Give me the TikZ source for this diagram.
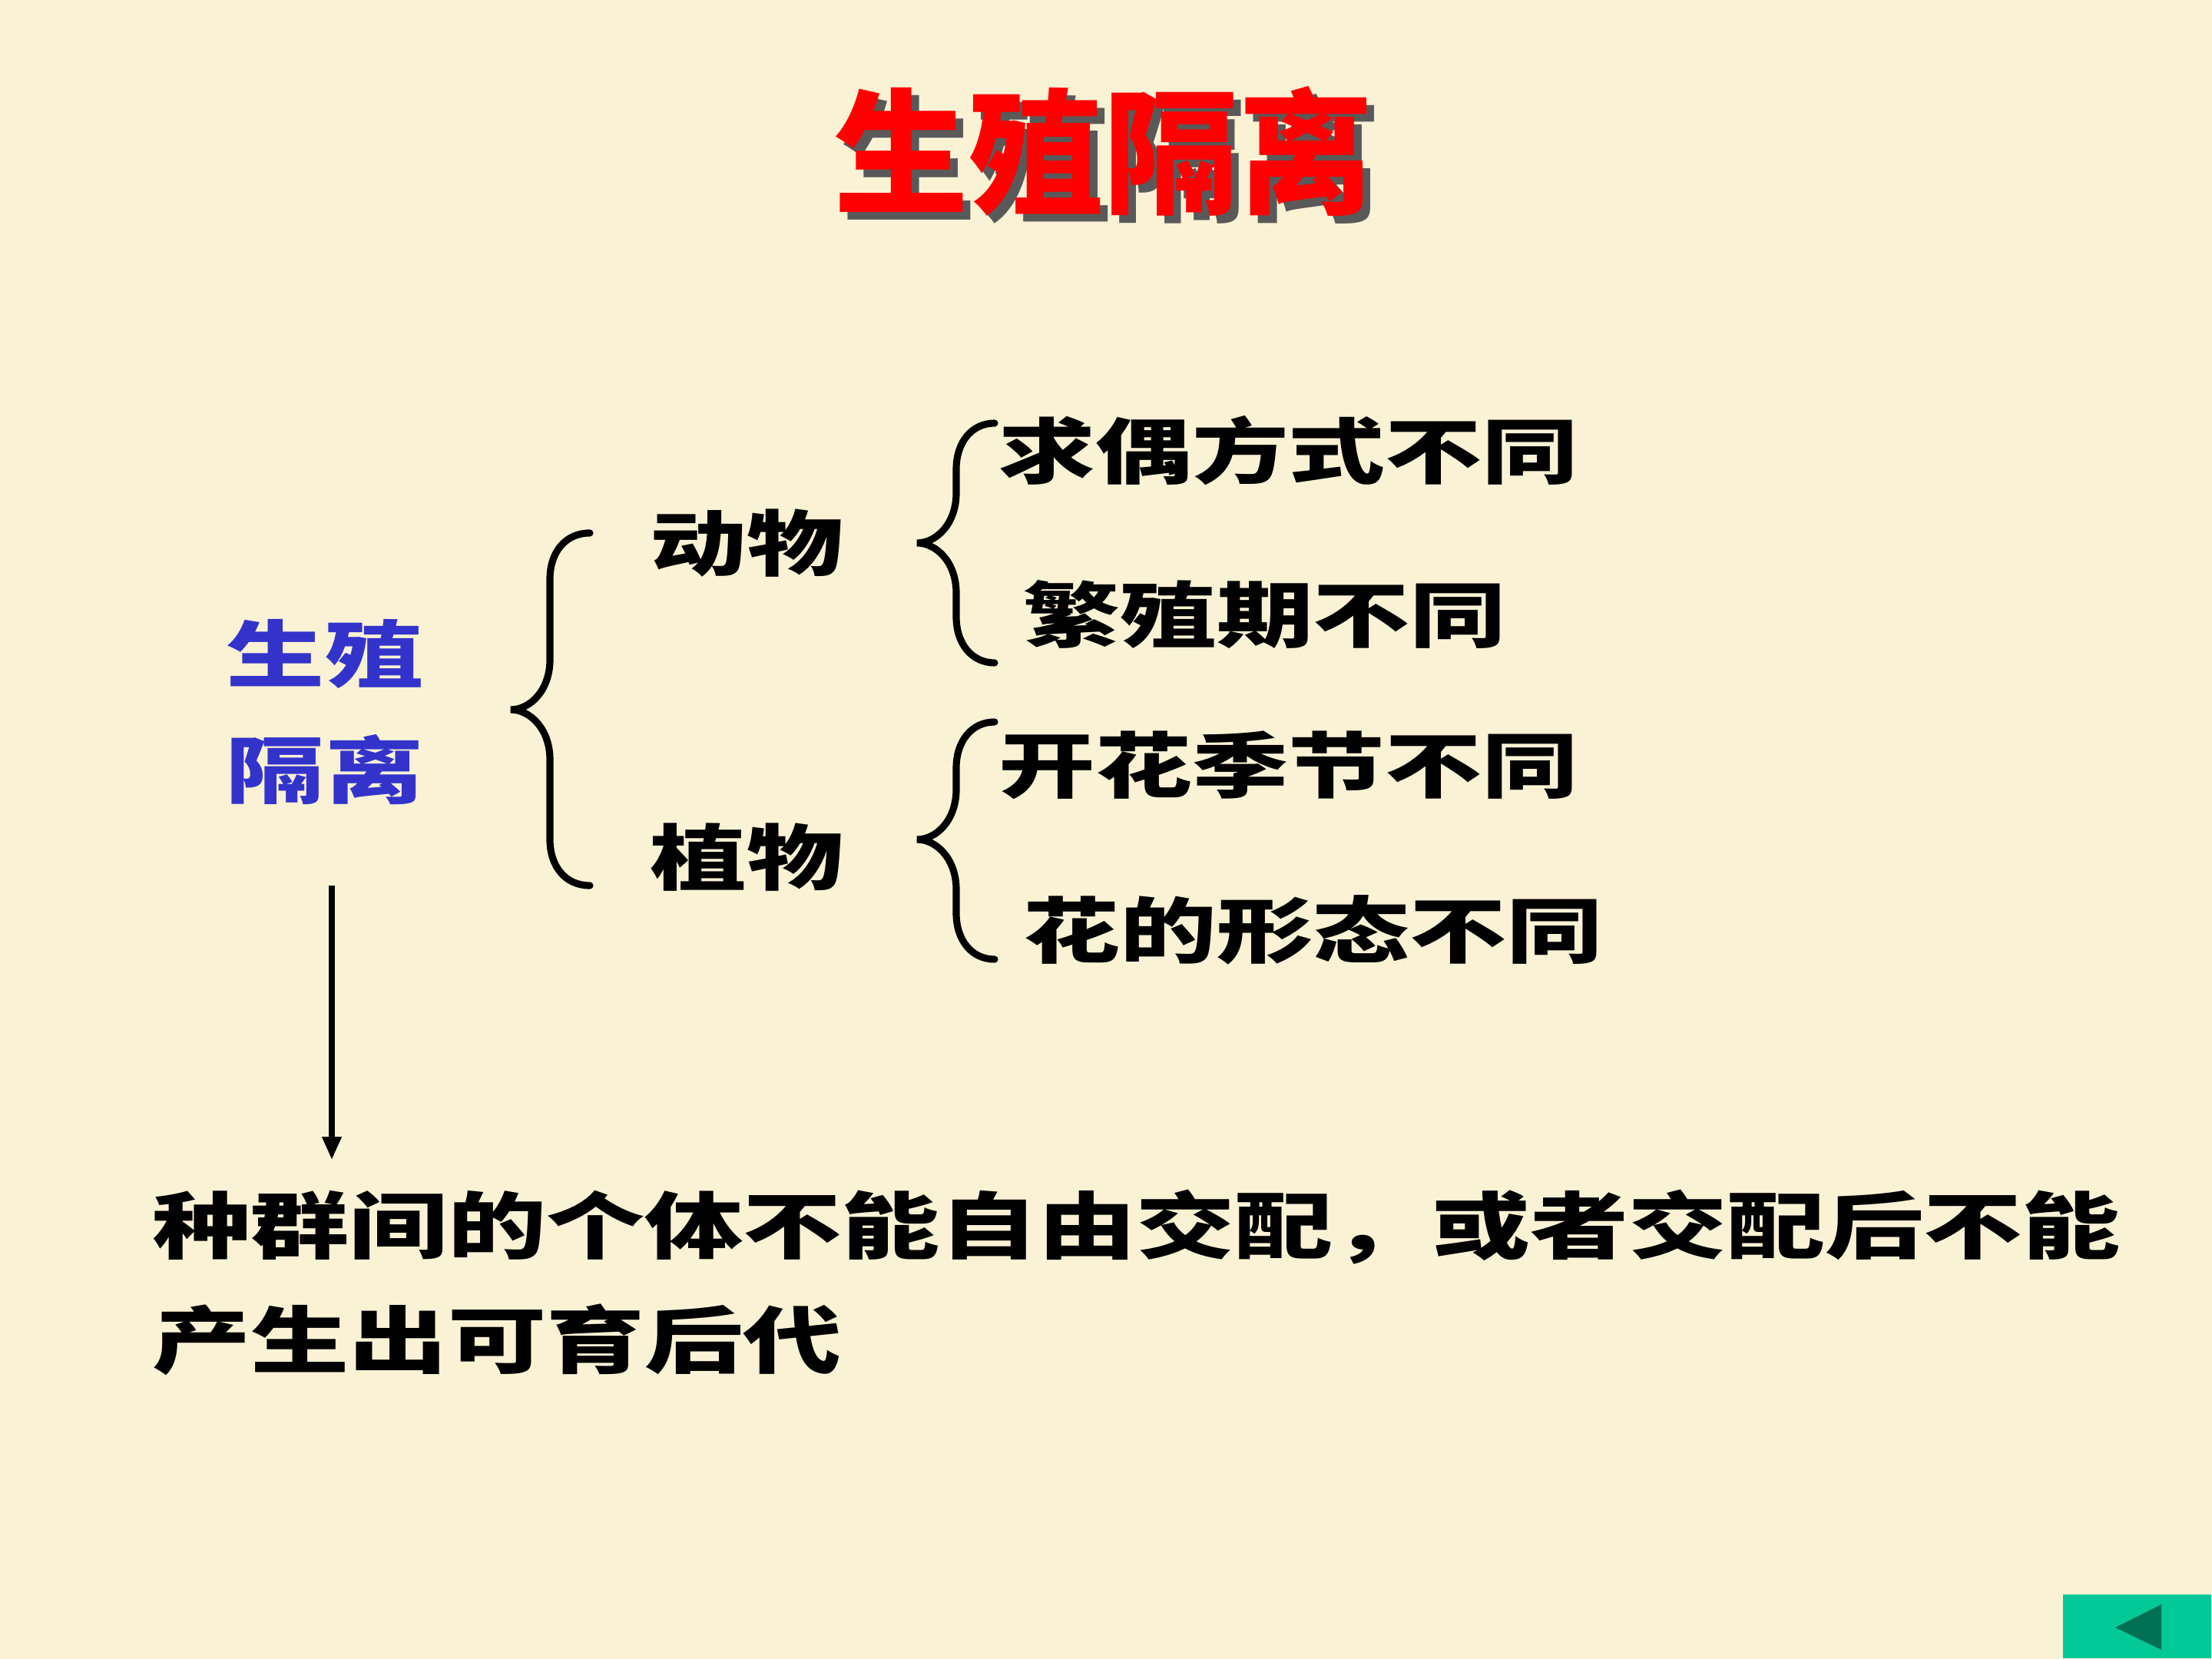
\documentclass[tikz,border=0pt]{standalone}
\usepackage{fontspec}
\usepackage{xcolor}
\usepackage{tikz}
\usetikzlibrary{arrows.meta, positioning}
\newfontfamily\cjk{Noto Sans CJK SC}
\newfontfamily\cjkwide[FakeStretch=1.35]{Noto Sans CJK SC}
\definecolor{parchment}{RGB}{249, 242, 213}
\definecolor{titlered}{RGB}{255, 0, 0}
\definecolor{isoblue}{RGB}{51, 51, 204}
\definecolor{navgreen}{RGB}{0, 200, 150}
\definecolor{navdark}{RGB}{0, 112, 84}
\tikzstyle{heading} = [font=\cjk\bfseries\fontsize{50}{60}\selectfont, inner sep=0pt]
\tikzstyle{label} = [font=\cjkwide\bfseries\fontsize{26.5}{30}\selectfont, inner sep=0pt]
\tikzstyle{item} = [label, anchor=west]
\tikzstyle{curly} = [line width=2.6pt, line cap=round]
\tikzstyle{arrow} = [-{Triangle[length=3mm, width=2.4mm]}, line width=2pt]
% left brace: end x, spine x, tip x, top y, tip y, bottom y
\newcommand{\leftbrace}[6]{%
  \draw[curly] (#1,#4) .. controls (#2+0.2,#4) and (#2,#4-0.25) .. (#2,#4-0.6) -- (#2,#5+0.65)
    .. controls (#2,#5+0.25) and (#3+0.25,#5) .. (#3,#5)
    .. controls (#3+0.25,#5) and (#2,#5-0.25) .. (#2,#5-0.65)
    -- (#2,#6+0.6) .. controls (#2,#6+0.25) and (#2+0.2,#6) .. (#1,#6);}

\begin{document}
\begin{tikzpicture}
    \fill[parchment] (0,0) rectangle (28.8,-21.6);
    \useasboundingbox (0,0) rectangle (28.8,-21.6);

    % Title with shadow
    \node[heading, text=black!65] (titleshadow) at (14.47,-2.07) {生殖隔离};
    \node[heading, text=titlered] (title) at (14.37,-1.97) {生殖隔离};

    % Left term
    \node[label, text=isoblue, font=\cjkwide\bfseries\fontsize{27}{43}\selectfont, align=center] (iso) at (4.23,-9.27) {生殖\\隔离};

    % Animals and plants
    \node[label] (animal) at (9.72,-7.07) {动物};
    \node[label] (plant) at (9.72,-11.16) {植物};

    % Reasons
    \node[item] (court) at (13.00,-5.87) {求偶方式不同};
    \node[item] (breed) at (13.32,-8.00) {繁殖期不同};
    \node[item] (bloom) at (13.00,-9.96) {开花季节不同};
    \node[item] (shape) at (13.32,-12.11) {花的形态不同};

    % Braces
    \leftbrace{7.68}{7.16}{6.65}{-6.94}{-9.24}{-11.53}
    \leftbrace{12.95}{12.45}{11.94}{-5.51}{-7.07}{-8.63}
    \leftbrace{12.95}{12.45}{11.94}{-9.40}{-10.93}{-12.49}

    % Definition
    \node[label, font=\cjkwide\bfseries\fontsize{27}{42.5}\selectfont, align=left, anchor=west] (defn) at (1.98,-16.70) {种群间的个体不能自由交配，或者交配后不能\\产生出可育后代};

    % Arrow
    \coordinate (arrtop) at (4.32,-11.53);
    \coordinate (arrend) at (4.32,-15.10);
    \draw[arrow] (arrtop) -- (arrend);

    % Back button
    \node[fill=navgreen, minimum width=1.93cm, minimum height=0.83cm, inner sep=0pt, anchor=south east] (back) at (28.8,-21.6) {};
    \fill[navdark] (27.54,-21.19) -- (28.14,-20.89) -- (28.14,-21.48) -- cycle;
\end{tikzpicture}
\end{document}
